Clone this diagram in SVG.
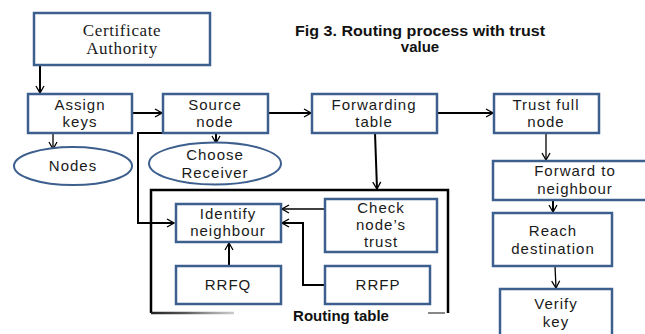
<svg xmlns="http://www.w3.org/2000/svg" width="645" height="334" viewBox="0 0 645 334">
<style>
.box{fill:#fff;stroke:#3d5f8e;stroke-width:2.5}
.ell{fill:#fff;stroke:#3d5f8e;stroke-width:2}
.t{font-family:"Liberation Sans",Arial,sans-serif;font-size:15px;fill:#1a1a1a;text-anchor:middle;letter-spacing:1px}
.s{font-family:"Liberation Serif","Times New Roman",serif;font-size:17px;fill:#1a1a1a;text-anchor:middle;letter-spacing:0.6px}
.b{font-family:"Liberation Sans",Arial,sans-serif;font-size:15px;font-weight:bold;fill:#111;text-anchor:middle}
.c{fill:none;stroke:#000;stroke-width:2}
.c1{fill:none;stroke:#000;stroke-width:1.3}
</style>
<defs>
<marker id="ah" markerWidth="10" markerHeight="10" refX="9" refY="5" orient="auto" markerUnits="userSpaceOnUse">
<path d="M2,1 L9,5 L2,9" fill="none" stroke="#000" stroke-width="1.3"/>
</marker>
<linearGradient id="fade" gradientUnits="userSpaceOnUse" x1="151" y1="0" x2="234" y2="0">
<stop offset="0" stop-color="#222"/>
<stop offset="0.4" stop-color="#555"/>
<stop offset="0.7" stop-color="#999"/>
<stop offset="1" stop-color="#ccc"/>
</linearGradient>
</defs>

<text class="b" x="420" y="36" textLength="250" lengthAdjust="spacingAndGlyphs">Fig 3. Routing process with trust</text>
<text class="b" x="420" y="52">value</text>

<g id="routing-table">
<path d="M151,313 L151,190 L448,190 L448,313" fill="none" stroke="#000" stroke-width="2.5"/>
<line x1="151" y1="313" x2="234" y2="313" stroke="url(#fade)" stroke-width="2.5"/>
<line x1="428" y1="313" x2="445" y2="313" stroke="#888" stroke-width="2"/>
<text class="b" x="341" y="321">Routing table</text>
</g>

<g id="connectors">
<line class="c" x1="40" y1="65" x2="40" y2="93" marker-end="url(#ah)"/>
<line class="c" x1="132" y1="113" x2="162" y2="113" marker-end="url(#ah)"/>
<line class="c" x1="268" y1="113" x2="311" y2="113" marker-end="url(#ah)"/>
<line class="c" x1="437" y1="113" x2="493" y2="113" marker-end="url(#ah)"/>
<line class="c1" x1="53" y1="133" x2="53" y2="149" marker-end="url(#ah)"/>
<line class="c" x1="216" y1="133" x2="216" y2="143" marker-end="url(#ah)"/>
<path class="c" d="M163,133 L138,133 L138,223 L174,223" marker-end="url(#ah)"/>
<line class="c" x1="375" y1="133" x2="377" y2="189" marker-end="url(#ah)"/>
<line class="c1" x1="325" y1="209" x2="282" y2="209" marker-end="url(#ah)"/>
<path class="c" d="M325,285 L303,285 L303,223 L282,223" marker-end="url(#ah)"/>
<line class="c" x1="229" y1="266" x2="229" y2="243" marker-end="url(#ah)"/>
<line class="c1" x1="546" y1="133" x2="546" y2="160" marker-end="url(#ah)"/>
<line class="c" x1="553" y1="200" x2="553" y2="212" marker-end="url(#ah)"/>
<line class="c1" x1="555" y1="266" x2="556" y2="288" marker-end="url(#ah)"/>
</g>

<g id="certificate-authority">
<rect class="box" x="34" y="13" width="176" height="52"/>
<text class="s" x="122" y="36">Certificate</text>
<text class="s" x="122" y="54">Authority</text>
</g>
<g id="assign-keys">
<rect class="box" x="28" y="94" width="104" height="39"/>
<text class="t" x="80" y="110">Assign</text>
<text class="t" x="80" y="127">keys</text>
</g>
<g id="source-node">
<rect class="box" x="163" y="94" width="105" height="39"/>
<text class="t" x="215" y="110">Source</text>
<text class="t" x="215" y="127">node</text>
</g>
<g id="forwarding-table">
<rect class="box" x="312" y="94" width="125" height="39"/>
<text class="t" x="374" y="110">Forwarding</text>
<text class="t" x="374" y="127">table</text>
</g>
<g id="trust-full-node">
<rect class="box" x="494" y="94" width="105" height="39"/>
<text class="t" x="546" y="110">Trust full</text>
<text class="t" x="546" y="127">node</text>
</g>
<g id="nodes">
<ellipse class="ell" cx="73" cy="166" rx="59" ry="19"/>
<text class="t" x="73" y="171">Nodes</text>
</g>
<g id="choose-receiver">
<ellipse class="ell" cx="215" cy="163.5" rx="66" ry="21"/>
<text class="t" x="215" y="160">Choose</text>
<text class="t" x="215" y="178">Receiver</text>
</g>
<g id="identify-neighbour">
<rect class="box" x="176" y="204" width="105" height="38"/>
<text class="t" x="228" y="219">Identify</text>
<text class="t" x="228" y="236">neighbour</text>
</g>
<g id="rrfq">
<rect class="box" x="176" y="266" width="105" height="38"/>
<text class="t" x="228" y="290">RRFQ</text>
</g>
<g id="check-trust">
<rect class="box" x="325" y="199" width="112" height="53"/>
<text class="t" x="381" y="213">Check</text>
<text class="t" x="381" y="230">node’s</text>
<text class="t" x="381" y="247">trust</text>
</g>
<g id="rrfp">
<rect class="box" x="325" y="266" width="105" height="38"/>
<text class="t" x="378" y="290">RRFP</text>
</g>
<g id="forward-to-neighbour">
<rect class="box" x="493" y="161" width="160" height="39"/>
<text class="t" x="575" y="176">Forward to</text>
<text class="t" x="575" y="194">neighbour</text>
</g>
<g id="reach-destination">
<rect class="box" x="493" y="213" width="119" height="53"/>
<text class="t" x="553" y="236">Reach</text>
<text class="t" x="553" y="254">destination</text>
</g>
<g id="verify-key">
<rect class="box" x="500" y="289" width="112" height="60"/>
<text class="t" x="556" y="309">Verify</text>
<text class="t" x="556" y="327">key</text>
</g>
</svg>
